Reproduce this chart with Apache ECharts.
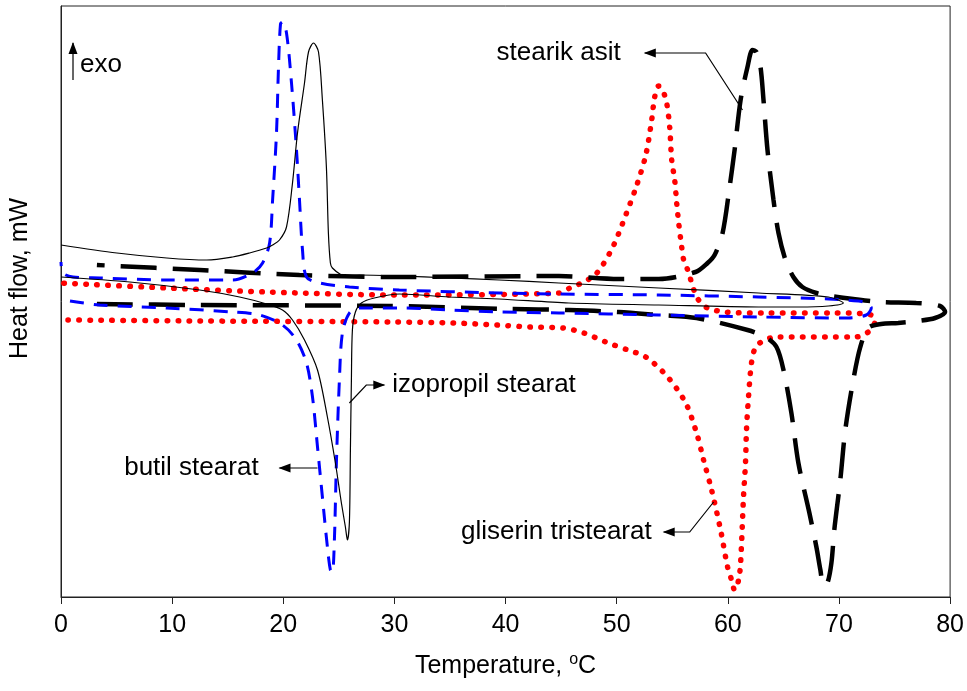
<!DOCTYPE html>
<html><head><meta charset="utf-8">
<script src="https://cdn.jsdelivr.net/npm/echarts@6/dist/echarts.min.js"></script>
<style>html,body{margin:0;padding:0;background:#fff}#c{width:967px;height:691px}</style>
</head><body><div id="c"></div>
<script>
// x-axis ticks (°C)
const xTicks = [0, 10, 20, 30, 40, 50, 60, 70, 80];

// izopropil stearat (thin solid black) – temperature / heat flow (arb. units)
const izoT = [0, 6.20, 12.48, 16.07, 18.50, 19.93, 20.83, 21.91, 23.08, 23.97, 24.69, 25.23, 25.59, 25.77, 25.95, 26.04, 26.13, 26.22, 26.49, 27.03, 28.19, 30.44, 34.93, 39.42, 45.70, 53.78, 62.76, 66.35, 69.05, 70.39, 69.05, 62.76, 53.78, 44.80, 39.42, 34.93, 30.44, 26.85, 25.68, 25.23, 24.42, 24.24, 24.06, 23.88, 23.52, 23.17, 22.72, 22.27, 21.91, 21.28, 20.83, 20.29, 19.66, 19.04, 18.50, 16.97, 15.44, 13.11, 9.52, 5.03, 0];
const izoH = [320, 315, 307, 300, 293, 287, 277, 257, 227, 180, 134, 94, 70, 57, 75, 147, 217, 267, 285, 294, 299, 303, 300, 298, 294, 292, 290, 290, 291, 294, 300, 304, 309, 314, 317, 319, 321, 322, 321, 322, 329, 334, 364, 430, 497, 545, 554, 545, 514, 464, 414, 370, 357, 352, 349, 344, 340, 337, 339, 344, 352];

// butil stearat (blue dashed)
const butT = [0.81, 3.50, 9.52, 15.44, 17.87, 19.93, 21.19, 22.09, 22.63, 23.08, 23.52, 23.97, 24.24, 24.42, 24.60, 24.78, 25.05, 25.32, 25.95, 26.85, 30.44, 34.93, 39.42, 44.80, 53.78, 62.76, 70.84, 72.46, 72.91, 72.46, 71.74, 69.05, 62.76, 53.78, 44.80, 39.42, 30.44, 25.95, 23.26, 22.09, 21.73, 21.46, 21.19, 20.74, 20.29, 19.93, 19.75, 19.57, 19.39, 19.04, 18.77, 18.14, 17.24, 15.44, 9.52, 3.50, 1.08, 0.18, 0];
const butH = [296, 292, 289, 285, 282, 272, 257, 234, 200, 150, 100, 50, 27, 25, 57, 134, 217, 264, 284, 289, 289, 287, 285, 284, 282, 280, 279, 282, 289, 294, 296, 298, 300, 302, 303, 304, 307, 310, 314, 320, 347, 397, 447, 514, 564, 575, 573, 530, 464, 397, 354, 334, 324, 317, 317, 319, 320, 324, 335];

// stearik asit (long-dashed black)
const steT = [3.23, 12.48, 29.54, 40.22, 45.70, 50.19, 53.78, 57.19, 61.77, 63.39, 64.38, 65.01, 65.72, 66.35, 67.34, 67.97, 68.33, 68.60, 68.96, 69.32, 69.58, 70.12, 70.57, 71.29, 71.92, 72.64, 73.80, 75.33, 77.13, 78.65, 79.55, 79.10, 76.95, 73.80, 71.29, 69.32, 67.97, 66.71, 65.90, 65.19, 64.56, 64.11, 63.57, 63.21, 62.94, 62.58, 62.22, 61.77, 61.15, 60.61, 60.16, 59.53, 58.81, 58.18, 57.10, 53.78, 50.19, 44.80, 29.54, 21.46, 12.48, 3.23];
const steH = [293, 292, 291, 288, 287, 285, 282, 279, 267, 260, 250, 227, 184, 134, 84, 50, 27, 12, 14, 34, 67, 117, 167, 217, 250, 269, 273, 274, 276, 279, 285, 291, 294, 295, 298, 301, 304, 310, 320, 337, 364, 397, 447, 497, 530, 545, 547, 530, 497, 447, 410, 364, 342, 334, 325, 318, 318, 321, 320, 322, 327, 332];

// gliserin tristearat (red dotted)
const gliT = [0.63, 12.48, 30.17, 35.38, 39.24, 42.20, 45.16, 47.05, 49.02, 51.00, 52.62, 54.59, 56.21, 57.19, 57.82, 58.54, 59.35, 59.98, 60.34, 60.61, 60.97, 61.15, 61.41, 61.59, 61.68, 61.86, 62.13, 62.49, 63.03, 64.29, 71.47, 72.37, 72.99, 73.27, 72.64, 69.58, 63.12, 59.80, 58.18, 57.37, 57.01, 56.75, 56.39, 56.03, 55.85, 55.58, 55.40, 55.22, 54.95, 54.77, 54.50, 54.23, 53.78, 53.42, 53.15, 52.62, 51.81, 50.82, 49.74, 48.75, 48.04, 47.05, 45.79, 44.80, 30.17, 18.50, 9.52, 0];
const gliH = [277, 276, 275, 274, 272, 270, 269, 264, 255, 247, 240, 220, 194, 164, 137, 107, 67, 30, 17, 7, 17, 34, 100, 134, 167, 200, 234, 250, 255, 260, 260, 263, 269, 277, 283, 284, 284, 285, 289, 297, 305, 314, 327, 337, 350, 374, 394, 417, 437, 470, 494, 504, 511, 500, 477, 442, 412, 382, 352, 332, 322, 315, 309, 304, 302, 305, 309, 314];

// annotations: [label, leader-line points (°C, heat flow), text anchor, text align]
const notes = [
  {text: 'stearik asit', pts: [[61.32, 487], [58.00, 544], [52.53, 544]], tx: [50.37, 544], align: 'right'},
  {text: 'izopropil stearat', pts: [[25.95, 194], [27.47, 212], [29.09, 212]], tx: [29.81, 212], align: 'left'},
  {text: 'butil stearat', pts: [[23.08, 129], [19.66, 129]], tx: [17.78, 129], align: 'right'},
  {text: 'gliserin tristearat', pts: [[58.72, 95], [56.57, 65], [54.23, 65]], tx: [53.15, 65], align: 'right'},
  {text: 'exo', pts: [[1.08, 517], [1.08, 554]], tx: [1.71, 532], align: 'left'}
];

const zip = (a, b) => a.map((v, i) => [v, b[i]]);
const FONT = '"Liberation Sans", Arial, sans-serif';

const chart = echarts.init(document.getElementById('c'), null, {renderer: 'canvas'});
chart.setOption({
  animation: false,
  backgroundColor: '#fff',
  grid: {left: 61, right: 15, top: 6, bottom: 94, show: true, borderColor: '#222', borderWidth: 1, backgroundColor: 'transparent'},
  xAxis: {
    type: 'value', min: 0, max: 80, interval: 10,
    name: 'Temperature, {sup|o}C', nameLocation: 'middle', nameGap: 55,
    nameTextStyle: {fontFamily: FONT, fontSize: 25, color: '#000',
      rich: {sup: {fontFamily: FONT, fontSize: 16, color: '#000', verticalAlign: 'top', padding: [0, 0, 12, 0]}}},
    axisLine: {lineStyle: {color: '#222', width: 1}},
    axisTick: {show: true, length: 7, lineStyle: {color: '#222'}},
    axisLabel: {fontFamily: FONT, fontSize: 25, color: '#000', margin: 16},
    splitLine: {show: false}
  },
  yAxis: {
    type: 'value', min: 0, max: 591,
    name: 'Heat flow, mW', nameLocation: 'middle', nameGap: 28,
    nameTextStyle: {fontFamily: FONT, fontSize: 25, color: '#000', padding: [0, 0, 0, 46]},
    axisLine: {show: true, lineStyle: {color: '#222', width: 1}},
    axisTick: {show: false}, axisLabel: {show: false}, splitLine: {show: false}
  },
  series: [
    {name: 'gliserin tristearat', type: 'line', data: zip(gliT, gliH), showSymbol: false, smooth: 0.3,
      lineStyle: {color: '#ff0000', width: 5.5, type: [0.5, 10.5], cap: 'round'}},
    {name: 'stearik asit', type: 'line', data: zip(steT, steH), showSymbol: false, smooth: 0.3,
      lineStyle: {color: '#000', width: 4.5, type: [36, 16], cap: 'butt'}},
    {name: 'butil stearat', type: 'line', data: zip(butT, butH), showSymbol: false, smooth: 0.3,
      lineStyle: {color: '#0000ff', width: 3, type: [14, 10]}},
    {name: 'izopropil stearat', type: 'line', data: zip(izoT, izoH), showSymbol: false, smooth: 0.3,
      lineStyle: {color: '#000', width: 1.2, type: 'solid'}}
  ]
});

// annotations placed in data space
const P = p => chart.convertToPixel({gridIndex: 0}, p);
const graphics = [];
notes.forEach(n => {
  const pts = n.pts.map(P);
  graphics.push({type: 'polyline', shape: {points: pts}, style: {stroke: '#000', lineWidth: 1.2, fill: null}, z: 100});
  const a = pts[pts.length - 1], b = pts[pts.length - 2];
  const ang = Math.atan2(a[1] - b[1], a[0] - b[0]);
  const L = 11, W = 4.5;
  const bx = a[0] - L * Math.cos(ang), by = a[1] - L * Math.sin(ang);
  const nx = -Math.sin(ang), ny = Math.cos(ang);
  graphics.push({type: 'polygon', shape: {points: [[a[0] + 1 * Math.cos(ang), a[1] + 1 * Math.sin(ang)], [bx + W * nx, by + W * ny], [bx - W * nx, by - W * ny]]},
    style: {fill: '#000'}, z: 100});
  const t = P(n.tx);
  graphics.push({type: 'text', x: t[0], y: t[1], z: 100,
    style: {text: n.text, fill: '#000', font: '26px ' + FONT, textAlign: n.align, textVerticalAlign: 'middle'}});
});
chart.setOption({graphic: graphics});
</script>
</body></html>
